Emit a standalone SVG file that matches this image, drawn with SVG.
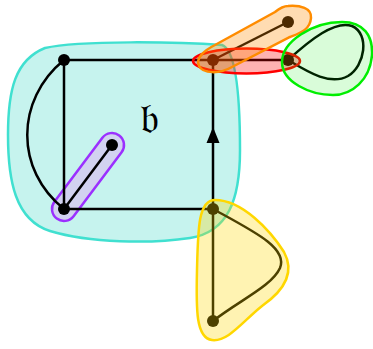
<svg xmlns="http://www.w3.org/2000/svg" width="373" height="349" viewBox="0 0 373 349">
<defs>
<style>
.e{fill:none;stroke:#000;stroke-width:2.5}
.n{fill:#000}
.h{stroke-width:2.5;fill-opacity:0.3}
</style>
</defs>
<g id="h-cyan"><path stroke-width="2.5" fill="#C6F3EE" stroke="#40E0D0" d="M45,48 C80,40 180,42 222,45 C236,50 240,95 240,150 C240,200 228,232 190,238 C150,244 90,243 50,231 C15,220 8,180 8,135 C8,90 15,60 45,48 Z"/></g>
<g id="h-purple"><rect stroke-width="2.5" fill="#D2D2F0" stroke="#9B30FF" x="36" y="165" width="104" height="24" rx="12" transform="rotate(-53.13 88 177)"/></g>
<g id="edges">
<path class="e" d="M64,60 L213,60"/>
<path class="e" d="M64,60 L64,209"/>
<path class="e" d="M64,60 C15,100 15,170 64,209"/>
<path class="e" d="M64,209 L213,209"/>
<path class="e" d="M213,209 L213,60"/>
<path d="M213,127 L219.5,143 L206.5,143 Z" fill="#000"/>
<path class="e" d="M64,209 L112,145"/>
<path class="e" d="M213,60 L288,22"/>
<path class="e" d="M213,60 L288,60"/>
<path class="e" d="M288,60 C310,40 335,20 352,26 C370,34 365,66 348,76 C330,86 308,72 288,60"/>
<path class="e" d="M213,209 L213,321"/>
<path class="e" d="M213,209 C255,232 288,248 280,268 C272,286 240,300 213,321"/>
</g>
<g id="nodes">
<circle id="nA" class="n" cx="64" cy="60" r="6"/>
<circle id="nB" class="n" cx="213" cy="60" r="6"/>
<circle id="nC" class="n" cx="64" cy="209" r="6"/>
<circle id="nD" class="n" cx="213" cy="209" r="6"/>
<circle id="nE" class="n" cx="112" cy="145" r="6"/>
<circle id="nF" class="n" cx="288" cy="22" r="6"/>
<circle id="nG" class="n" cx="288" cy="60" r="6"/>
<circle id="nH" class="n" cx="213" cy="321" r="6"/>
</g>
<g id="hyperedges">
<g id="h-red"><ellipse class="h" fill="#FF0000" stroke="#FF0000" cx="246.5" cy="61" rx="53.5" ry="12.5"/></g>
<g id="h-orange"><path class="h" fill="#FF8C00" stroke="#FF8C00" d="M288,6 C300,5 312,8 311,18 C310,30 300,33 290,37 L232,67 C220,74 203,74 199,66 C195,58 205,50 215,45 L275,12 C280,8 284,6 288,6 Z"/></g>
<g id="h-green"><path class="h" fill="#00EE00" style="fill-opacity:0.15" stroke="#00EE00" d="M282,62 C282,42 312,22 342,22 C364,22 373,36 372,55 C370,80 352,95 333,95 C310,95 282,82 282,62 Z"/></g>
<g id="h-yellow"><path class="h" fill="#FFD700" stroke="#FFD700" d="M215,200 C242,200 270,230 284,252 C296,274 282,292 262,306 C242,322 228,342 212,340 C196,338 196,310 197,270 C198,230 198,200 215,200 Z"/></g>
</g>
<text x="149" y="133" font-family="DejaVu Sans, sans-serif" font-size="42" text-anchor="middle">𝔟</text>
</svg>
